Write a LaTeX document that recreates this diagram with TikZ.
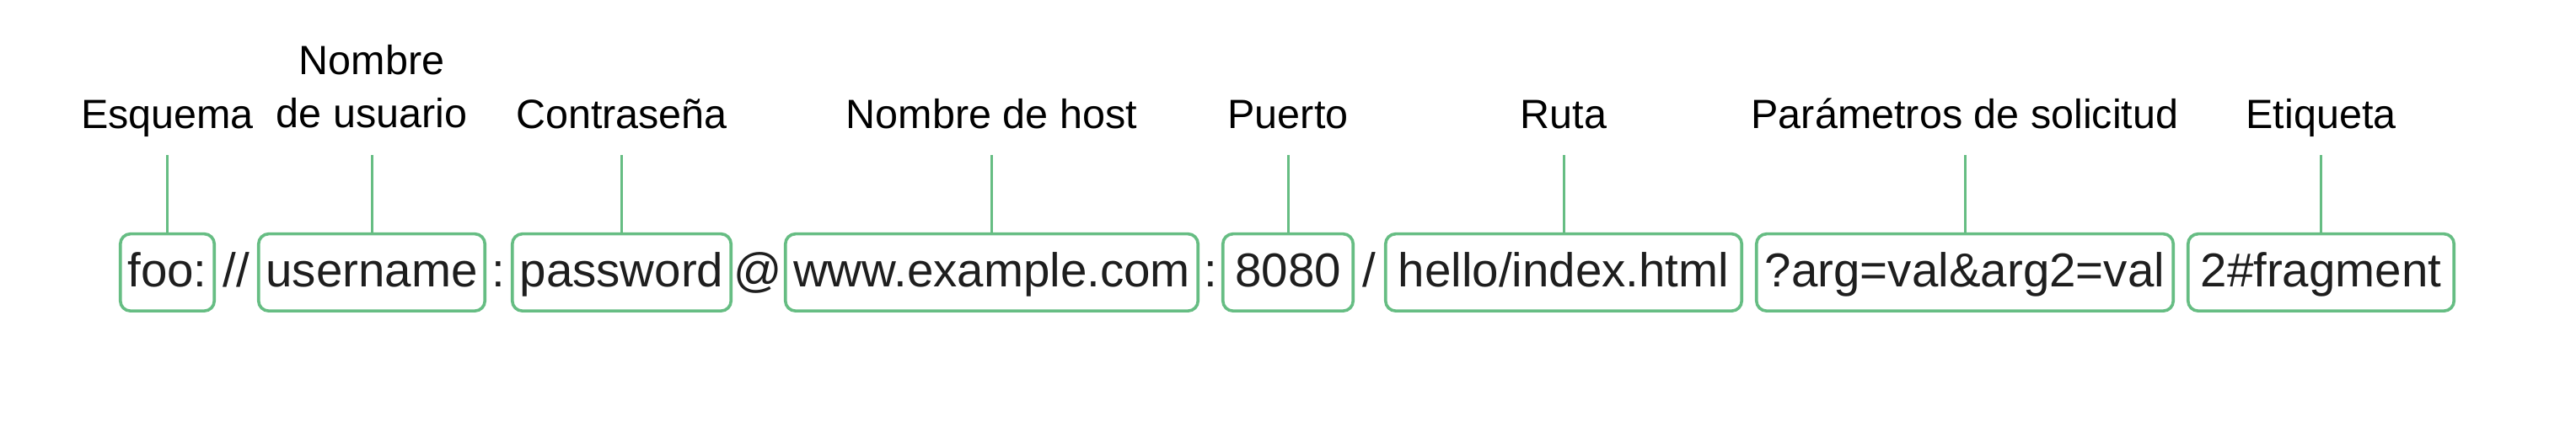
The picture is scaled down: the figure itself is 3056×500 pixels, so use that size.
\documentclass[tikz,border=0pt]{standalone}
\usepackage{fontspec}
\setmainfont{Liberation Sans}
\definecolor{urlgreen}{RGB}{102,189,131}
\definecolor{urltext}{RGB}{30,30,30}
\tikzset{
  part/.style={draw=urlgreen, line width=1.8pt, rounded corners=6pt, inner sep=0pt,
    minimum height=45.75pt, text height=22.5pt, text depth=5.9pt,
    font=\fontsize{28.25}{34}\selectfont, text=urltext, anchor=center},
  sepchar/.style={inner sep=0pt, anchor=base, font=\fontsize{28.25}{34}\selectfont, text=urltext},
  lbl/.style={inner sep=0pt, anchor=base, align=center, font=\fontsize{24.25}{31.2}\selectfont, text=black},
  conn/.style={draw=urlgreen, line width=1.5pt}
}
\begin{document}
\begin{tikzpicture}[x=0.5pt,y=-0.5pt]
\useasboundingbox (0,0) rectangle (3056,500);
\coordinate (ltop) at (0,184);
% boxes
\node[part, minimum width=55.75pt]  (b1) at (198.5,323.4) {foo:};
\node[part, minimum width=134.25pt] (b2) at (441,323.4) {username};
\node[part, minimum width=129.75pt] (b3) at (737.5,323.4) {password};
\node[part, minimum width=244.75pt] (b4) at (1176.5,323.4) {www.example.com};
\node[part, minimum width=77.25pt]  (b5) at (1528,323.4) {8080};
\node[part, minimum width=211.25pt] (b6) at (1855,323.4) {hello/index.html};
\node[part, minimum width=247.25pt] (b7) at (2331,323.4) {?arg=val\&arg2=val};
\node[part, minimum width=157.75pt] (b8) at (2753.5,323.4) {2\#fragment};
% separators
\node[sepchar] (s1) at (280,340) {//};
\node[sepchar] (s2) at (591.5,340) {:};
\node[sepchar] (s3) at (899.5,340) {@};
\node[sepchar] (s4) at (1436,340) {:};
\node[sepchar] (s5) at (1624.5,340) {/};
% labels
\node[lbl] (l1) at (198.5,152) {Esquema};
\node[lbl, anchor=south] (l2) at (441,152) {Nombre\\de usuario};
\node[lbl] (l3) at (737.5,152) {Contraseña};
\node[lbl] (l4) at (1176.5,152) {Nombre de host};
\node[lbl] (l5) at (1528,152) {Puerto};
\node[lbl] (l6) at (1855,152) {Ruta};
\node[lbl] (l7) at (2331,152) {Parámetros de solicitud};
\node[lbl] (l8) at (2753.5,152) {Etiqueta};
% connectors
\foreach \i in {1,...,8}{
  \draw[conn] (b\i.north) -- (b\i.north |- ltop);
}
\end{tikzpicture}
\end{document}
